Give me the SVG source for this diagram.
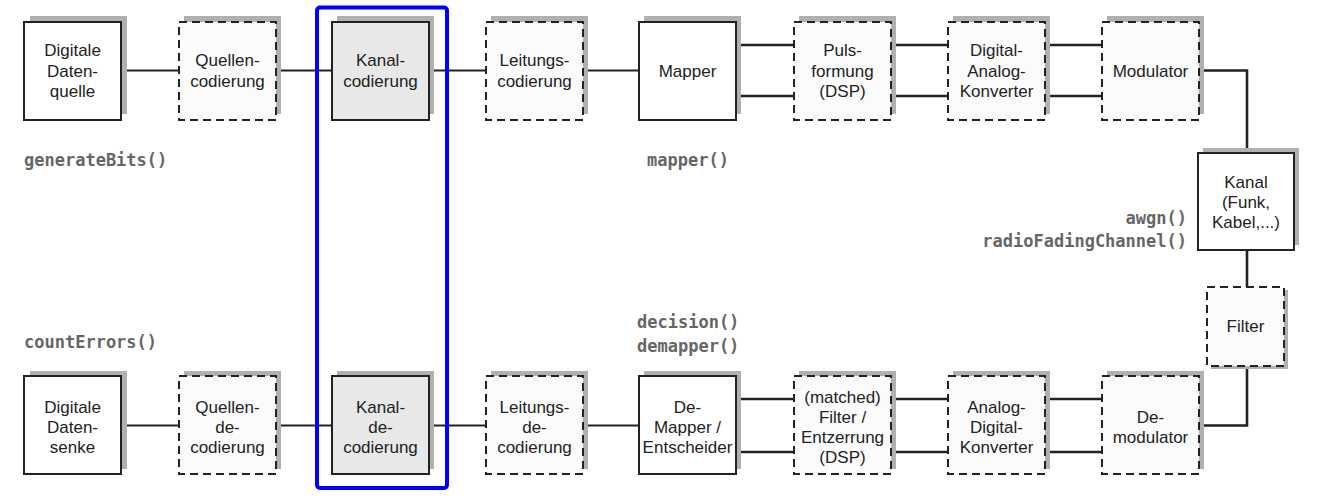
<svg xmlns="http://www.w3.org/2000/svg" width="1318" height="501" viewBox="0 0 1318 501">
<style>
.sh{fill:#b0b0b0}
.solid{fill:#ffffff;stroke:#222;stroke-width:2}
.dash{fill:#fbfbfb;stroke:#222;stroke-width:2;stroke-dasharray:8 5}
.gray{fill:#e8e8e8;stroke:#222;stroke-width:2}
.t{font-family:"Liberation Sans",Arial,sans-serif;font-size:17px;fill:#222;text-anchor:middle}
.code{font-family:"DejaVu Sans Mono","Liberation Mono",monospace;font-size:17px;font-weight:bold;fill:#666}
.c1{fill:none;stroke:#222;stroke-width:2}
.c2{fill:none;stroke:#222;stroke-width:2.6}
</style>
<rect width="1318" height="501" fill="#ffffff"/>
<g id="connectors">
<path class="c1" d="M121 70.5H179M276 70.5H332M429 70.5H486M583 70.5H639"/>
<path class="c2" d="M736 45H794M736 96H794M891 45H948M891 96H948M1045 45H1102M1045 96H1102"/>
<path class="c2" d="M1199 70.5H1247V153M1247 250V287M1247 366V425.5H1199"/>
<path class="c1" d="M121 425.5H179M276 425.5H332M429 425.5H486M583 425.5H639"/>
<path class="c2" d="M736 399H794M736 452H794M891 399H948M891 452H948M1045 399H1102M1045 452H1102"/>
</g>
<g id="n_quelle"><rect class="sh" x="30" y="16" width="97" height="98"/><rect class="solid" x="24" y="22" width="97" height="98"/>
<text class="t" x="72.5" y="56">Digitale</text><text class="t" x="72.5" y="76.5">Daten-</text><text class="t" x="72.5" y="97">quelle</text></g>
<g id="n_qcod"><rect class="sh" x="184" y="16" width="97" height="98"/><rect class="dash" x="179" y="22" width="97" height="98"/>
<text class="t" x="227.5" y="66">Quellen-</text><text class="t" x="227.5" y="86.5">codierung</text></g>
<g id="n_kcod"><rect class="sh" x="337" y="16" width="97" height="98"/><rect class="gray" x="332" y="22" width="97" height="98"/>
<text class="t" x="380.5" y="66">Kanal-</text><text class="t" x="380.5" y="86.5">codierung</text></g>
<g id="n_lcod"><rect class="sh" x="491" y="16" width="97" height="98"/><rect class="dash" x="486" y="22" width="97" height="98"/>
<text class="t" x="534.5" y="66">Leitungs-</text><text class="t" x="534.5" y="86.5">codierung</text></g>
<g id="n_mapper"><rect class="sh" x="644" y="16" width="97" height="98"/><rect class="solid" x="639" y="22" width="97" height="98"/>
<text class="t" x="687.5" y="76.5">Mapper</text></g>
<g id="n_puls"><rect class="sh" x="799" y="16" width="97" height="98"/><rect class="dash" x="794" y="22" width="97" height="98"/>
<text class="t" x="842.5" y="56">Puls-</text><text class="t" x="842.5" y="76.5">formung</text><text class="t" x="842.5" y="97">(DSP)</text></g>
<g id="n_dak"><rect class="sh" x="953" y="16" width="97" height="98"/><rect class="dash" x="948" y="22" width="97" height="98"/>
<text class="t" x="996.5" y="56">Digital-</text><text class="t" x="996.5" y="76.5">Analog-</text><text class="t" x="996.5" y="97">Konverter</text></g>
<g id="n_mod"><rect class="sh" x="1107" y="16" width="97" height="98"/><rect class="dash" x="1102" y="22" width="97" height="98"/>
<text class="t" x="1150.5" y="76.5">Modulator</text></g>
<g id="n_kanal"><rect class="sh" x="1203" y="148" width="96" height="97"/><rect class="solid" x="1198" y="153" width="96" height="97"/>
<text class="t" x="1246" y="187.5">Kanal</text><text class="t" x="1246" y="207.5">(Funk,</text><text class="t" x="1246" y="227.5">Kabel,...)</text></g>
<g id="n_filter"><rect class="sh" x="1211" y="290" width="77" height="79"/><rect class="dash" x="1207" y="287" width="77" height="79"/>
<text class="t" x="1245.5" y="332">Filter</text></g>
<g id="n_senke"><rect class="sh" x="30" y="371" width="97" height="98"/><rect class="solid" x="24" y="376" width="97" height="98"/>
<text class="t" x="72.5" y="412.5">Digitale</text><text class="t" x="72.5" y="432.5">Daten-</text><text class="t" x="72.5" y="452.5">senke</text></g>
<g id="n_qdec"><rect class="sh" x="184" y="371" width="97" height="98"/><rect class="dash" x="179" y="376" width="97" height="98"/>
<text class="t" x="227.5" y="412.5">Quellen-</text><text class="t" x="227.5" y="432.5">de-</text><text class="t" x="227.5" y="452.5">codierung</text></g>
<g id="n_kdec"><rect class="sh" x="337" y="371" width="97" height="98"/><rect class="gray" x="332" y="376" width="97" height="98"/>
<text class="t" x="380.5" y="412.5">Kanal-</text><text class="t" x="380.5" y="432.5">de-</text><text class="t" x="380.5" y="452.5">codierung</text></g>
<g id="n_ldec"><rect class="sh" x="491" y="371" width="97" height="98"/><rect class="dash" x="486" y="376" width="97" height="98"/>
<text class="t" x="534.5" y="412.5">Leitungs-</text><text class="t" x="534.5" y="432.5">de-</text><text class="t" x="534.5" y="452.5">codierung</text></g>
<g id="n_demapper"><rect class="sh" x="644" y="371" width="97" height="98"/><rect class="solid" x="639" y="376" width="97" height="98"/>
<text class="t" x="687.5" y="412.5">De-</text><text class="t" x="687.5" y="432.5">Mapper /</text><text class="t" x="687.5" y="452.5">Entscheider</text></g>
<g id="n_mf"><rect class="sh" x="799" y="371" width="97" height="98"/><rect class="dash" x="794" y="376" width="97" height="98"/>
<text class="t" x="842.5" y="402.5">(matched)</text><text class="t" x="842.5" y="422.5">Filter /</text><text class="t" x="842.5" y="442.5">Entzerrung</text><text class="t" x="842.5" y="462.5">(DSP)</text></g>
<g id="n_adk"><rect class="sh" x="953" y="371" width="97" height="98"/><rect class="dash" x="948" y="376" width="97" height="98"/>
<text class="t" x="996.5" y="412.5">Analog-</text><text class="t" x="996.5" y="432.5">Digital-</text><text class="t" x="996.5" y="452.5">Konverter</text></g>
<g id="n_demod"><rect class="sh" x="1107" y="371" width="97" height="98"/><rect class="dash" x="1102" y="376" width="97" height="98"/>
<text class="t" x="1150.5" y="422.5">De-</text><text class="t" x="1150.5" y="443">modulator</text></g>
<g id="highlight"><rect x="317" y="7.5" width="130" height="480.5" rx="3" fill="none" stroke="#0000ff" stroke-width="4"/></g>
<g id="labels">
<text class="code" x="24" y="166">generateBits()</text>
<text class="code" x="647" y="166">mapper()</text>
<text class="code" x="1187" y="223.5" text-anchor="end">awgn()</text>
<text class="code" x="1187" y="246.5" text-anchor="end">radioFadingChannel()</text>
<text class="code" x="24" y="348">countErrors()</text>
<text class="code" x="637" y="328">decision()</text>
<text class="code" x="637" y="352">demapper()</text>
</g>
</svg>
